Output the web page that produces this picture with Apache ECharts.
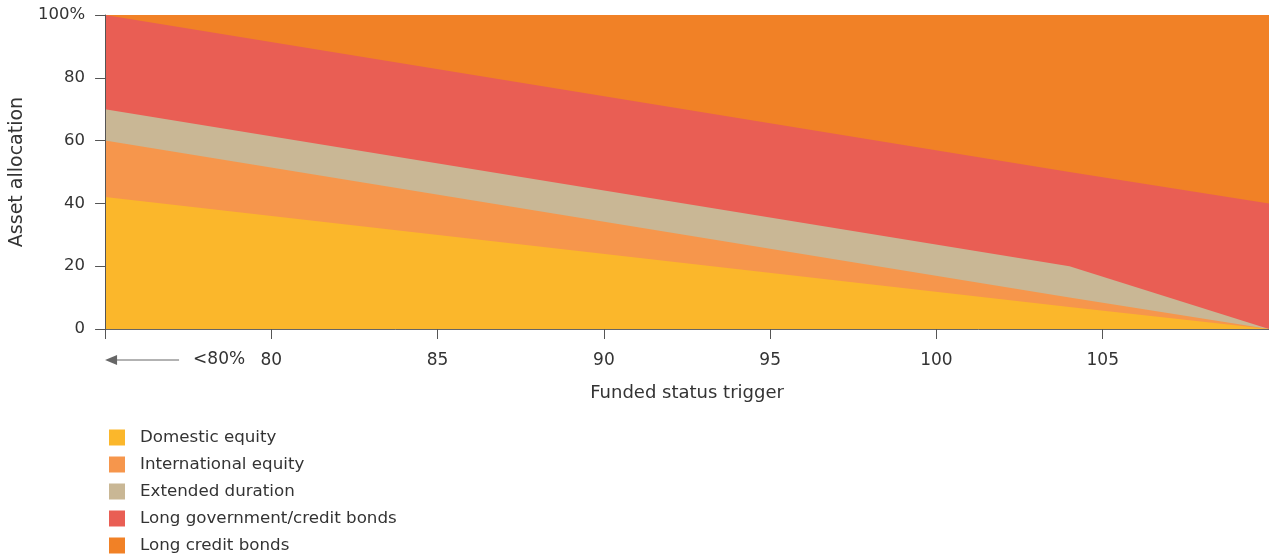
<!DOCTYPE html>
<html>
<head>
<meta charset="utf-8">
<script src="https://cdn.jsdelivr.net/npm/echarts@6/dist/echarts.min.js"></script>
<style>
  html, body { margin: 0; padding: 0; background: #fff; }
  #chart { width: 1269px; height: 557px; }
</style>
</head>
<body>
<div id="chart"></div>
<script>
// Funded status trigger breakpoints (percent funded)
const fundedStatus = [75, 104, 110];

// Allocation (%) of each asset class at each breakpoint, listed bottom to top
const domesticEquity = [42, 7, 0];
const internationalEquity = [18, 3, 0];
const extendedDuration = [10, 10, 0];
const longGovCreditBonds = [30, 30, 40];
const longCreditBonds = [0, 50, 60];

const seriesNames = [
  'Domestic equity',
  'International equity',
  'Extended duration',
  'Long government/credit bonds',
  'Long credit bonds'
];
const seriesValues = [
  domesticEquity,
  internationalEquity,
  extendedDuration,
  longGovCreditBonds,
  longCreditBonds
];
const seriesColors = ['#FBB72B', '#F6964C', '#C9B795', '#E95E54', '#F18126'];

const xTickValues = [75, 80, 85, 90, 95, 100, 105];
const xTickLabels = ['80', '85', '90', '95', '100', '105'];
const belowRangeLabel = '<80%';

const FONT = '"DejaVu Sans", "Liberation Sans", sans-serif';
const TEXT = '#333';

const chart = echarts.init(document.getElementById('chart'), null, { renderer: 'canvas' });

// Running totals: each band is filled from the axis up to its cumulative top,
// lower bands painted over higher ones so the result reads as a stack.
const cumulative = [];
seriesValues.forEach((vals, i) => {
  cumulative.push(vals.map((v, j) => v + (i > 0 ? cumulative[i - 1][j] : 0)));
});

const n = seriesNames.length;
const series = seriesNames.map((name, i) => ({
  name,
  type: 'line',
  z: 2 + (n - i),
  symbol: 'none',
  silent: true,
  lineStyle: { width: 0 },
  areaStyle: { color: seriesColors[i], opacity: 1 },
  itemStyle: { color: seriesColors[i] },
  data: fundedStatus.map((x, j) => [x, cumulative[i][j]])
}));

chart.setOption({
  animation: false,
  textStyle: { fontFamily: FONT },
  grid: { left: 105, width: 1169, top: 15, bottom: 228, containLabel: false },
  legend: {
    orient: 'vertical',
    left: 109,
    top: 429,
    height: 140,
    padding: 0,
    itemWidth: 16,
    itemHeight: 16,
    itemGap: 10,
    icon: 'rect',
    selectedMode: false,
    textStyle: { fontSize: 16.7, lineHeight: 16, color: TEXT, fontFamily: FONT, padding: [0, 0, 0, 10] },
    data: seriesNames
  },
  xAxis: {
    type: 'value',
    min: 75,
    max: 110,
    interval: 5,
    name: 'Funded status trigger',
    nameLocation: 'middle',
    nameGap: 55,
    nameTextStyle: { fontSize: 18, color: TEXT, fontFamily: FONT },
    axisLine: { show: true, onZero: false, lineStyle: { color: '#666', width: 1 } },
    axisTick: { show: true, length: 10, customValues: xTickValues, lineStyle: { color: '#555' } },
    axisLabel: {
      margin: 23,
      fontSize: 17,
      color: TEXT,
      customValues: xTickValues.slice(1),
      formatter: (v) => xTickLabels[xTickValues.indexOf(v) - 1]
    },
    splitLine: { show: false },
    z: 10
  },
  yAxis: {
    type: 'value',
    min: 0,
    max: 100,
    interval: 20,
    name: 'Asset allocation',
    nameLocation: 'middle',
    nameGap: 78,
    nameTextStyle: { fontSize: 19, color: TEXT, fontFamily: FONT },
    axisLine: { show: true, lineStyle: { color: '#555', width: 1 } },
    axisTick: { show: true, length: 10, lineStyle: { color: '#555' } },
    axisLabel: {
      margin: 20,
      fontSize: 16.5,
      color: TEXT,
      formatter: (v) => (v === 100 ? '100%' : String(v))
    },
    splitLine: { show: false },
    z: 10
  },
  series
});

// "<80%" marker with a left-pointing arrow beneath the start of the axis
const axisStart = chart.convertToPixel({ xAxisIndex: 0 }, 75);
const y0 = chart.convertToPixel({ yAxisIndex: 0 }, 0);
const arrowY = y0 + 31;
chart.setOption({
  graphic: [
    {
      type: 'line',
      shape: { x1: axisStart + 8, y1: arrowY, x2: axisStart + 74, y2: arrowY },
      style: { stroke: '#666', lineWidth: 1 }
    },
    {
      type: 'polygon',
      shape: { points: [[axisStart, arrowY], [axisStart + 12, arrowY - 5], [axisStart + 12, arrowY + 5]] },
      style: { fill: '#666' }
    },
    {
      type: 'text',
      x: axisStart + 88,
      y: arrowY,
      style: {
        text: belowRangeLabel,
        font: '17px ' + FONT,
        fill: TEXT,
        verticalAlign: 'middle',
        align: 'left'
      }
    }
  ]
});
</script>
</body>
</html>
